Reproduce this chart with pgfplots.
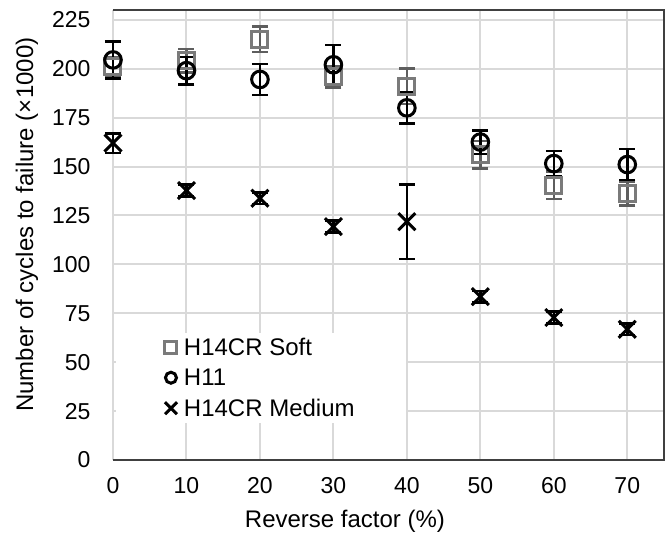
\documentclass[border=0pt]{standalone}
\usepackage{pgfplots}
\pgfplotsset{compat=1.18}
\usepackage{pgfplotstable}
\usepackage{fontspec}
\setmainfont{Liberation Sans}
\definecolor{gridgray}{HTML}{D9D9D9}
\definecolor{softgray}{HTML}{7A7A7A}
\definecolor{softerr}{HTML}{5E5E5E}
\definecolor{axdark}{HTML}{404040}

\pgfplotstableread{
x y e
0 201 5
10 204 6
20 215 6.5
30 196 5.5
40 191 9
50 156 7
60 140.5 7
70 136 6
}\soft
\pgfplotstableread{
x y e
0 204.5 9.5
10 199 7
20 194.5 8
30 202 10
40 180 8
50 162.5 6
60 151.5 6.5
70 151 8
}\hel
\pgfplotstableread{
x y e
0 162 5
10 137.7 3
20 133.8 3
30 119.3 3
40 121.8 19
50 83.5 3
60 72.8 3
70 66.8 3
}\med

\begin{document}
\begin{tikzpicture}
\begin{axis}[
  at={(0,0)}, anchor=south west,
  scale only axis, width=551pt, height=450pt,
  xmin=0, xmax=75, ymin=0, ymax=230,
  xtick={0,10,...,70}, ytick={0,25,...,225},
  major tick length=0pt,
  grid=major,
  major grid style={draw=gridgray, line width=2pt},
  axis line style={draw=none},
  /pgf/number format/assume math mode=true,
  tick label style={font=\fontsize{23}{27}\selectfont},
  yticklabel style={xshift=-19pt},
  xticklabel style={yshift=-14pt},
  xlabel={Reverse factor (\%)},
  ylabel={Number of cycles to failure (×1000)},
  label style={font=\fontsize{24}{28}\selectfont},
  xlabel style={at={(axis description cs:0.421,-0.136)}, anchor=center},
  ylabel style={at={(axis description cs:-0.156,0.523)}, anchor=center},
  legend style={at={(axis description cs:0.005,0.283)}, anchor=north west,
    fill=white, draw=none, font=\fontsize{24}{26}\selectfont,
    inner xsep=49pt, inner ysep=3pt, row sep=8pt, column sep=5pt,
    nodes={inner sep=2pt}},
  legend cell align=left,
  legend image code/.code={\draw[#1] plot coordinates {(0pt,0pt)};},
  after end axis/.code={
    \draw[axdark, line width=2.5pt] (rel axis cs:0,1) -- (rel axis cs:1,1) -- (rel axis cs:1,0) -- (rel axis cs:0,0);
  },
  clip=false,
]
\addplot[only marks, mark=square, mark size=8pt,
  mark options={draw=softgray, line width=3pt},
  legend image post style={mark size=6pt},
  error bars/.cd, y dir=both, y explicit,
  error bar style={draw=softerr, line width=2.5pt},
  error mark options={rotate=90, mark size=8pt, draw=softerr, line width=2.5pt}]
  table[x=x, y=y, y error=e] {\soft};
\addlegendentry{H14CR Soft}
\addplot[only marks, mark=o, mark size=8.3pt,
  mark options={draw=black, line width=3pt},
  legend image post style={mark size=5.5pt},
  error bars/.cd, y dir=both, y explicit,
  error bar style={draw=black, line width=2.5pt},
  error mark options={rotate=90, mark size=8pt, draw=black, line width=2.5pt}]
  table[x=x, y=y, y error=e] {\hel};
\addlegendentry{H11}
\addplot[only marks, mark=x, mark size=12pt,
  mark options={draw=black, line width=3pt},
  legend image post style={mark size=8.5pt},
  error bars/.cd, y dir=both, y explicit,
  error bar style={draw=black, line width=2.5pt},
  error mark options={rotate=90, mark size=8pt, draw=black, line width=2.5pt}]
  table[x=x, y=y, y error=e] {\med};
\addlegendentry{H14CR Medium}
\end{axis}
\pgfresetboundingbox
\path (-113pt,-75pt) rectangle (558pt,460pt);
\end{tikzpicture}
\end{document}
